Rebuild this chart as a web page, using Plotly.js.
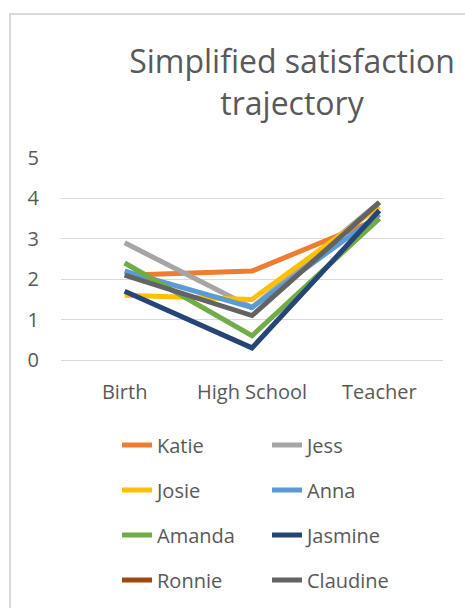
<!DOCTYPE html>
<html>
<head>
<meta charset="utf-8">
<script src="https://cdn.plot.ly/plotly-3.0.1.min.js"></script>
<style>
  html, body { margin: 0; padding: 0; width: 465px; height: 608px; overflow: hidden; background: #fff; }
  #chart { position: absolute; left: 9px; top: 13px; width: 600px; height: 700px;
           border-left: 2px solid #d9d9d9; border-top: 2px solid #d9d9d9; }
</style>
</head>
<body>
<div id="chart"></div>
<script>
// Life stages on the horizontal axis
const stages = ["Birth", "High School", "Teacher"];

// Satisfaction score per person at each stage
const katie    = [2.1, 2.2, 3.5];
const jess     = [2.9, 1.3, 3.9];
const josie    = [1.6, 1.5, 3.8];
const anna     = [2.2, 1.3, 3.6];
const amanda   = [2.4, 0.6, 3.5];
const jasmine  = [1.7, 0.3, 3.7];
const ronnie   = [null, null, null];
const claudine = [2.1, 1.1, 3.9];

const names  = ["Katie", "Jess", "Josie", "Anna", "Amanda", "Jasmine", "Ronnie", "Claudine"];
const series = [katie, jess, josie, anna, amanda, jasmine, ronnie, claudine];
const colors = ["#ED7D31", "#A5A5A5", "#FFC000", "#5B9BD5", "#70AD47", "#264478", "#9E480E", "#636363"];

const yTicks = [0, 1, 2, 3, 4, 5];

const FONT = "Open Sans, sans-serif";
const TEXT = "#595959";

// two entries per legend row
const legendIds = ["legend", "legend2", "legend3", "legend4"];

const traces = series.map((vals, i) => ({
  type: "scatter",
  mode: "lines",
  x: stages,
  y: vals,
  name: names[i],
  line: { color: colors[i], width: 5 },
  legend: legendIds[Math.floor(i / 2)],
  hoverinfo: "skip"
}));

const W = 600, H = 700;
const PL = 50, PW = 382;
const rowY = [430, 475, 520, 565];

const layout = {
  width: W,
  height: H,
  margin: { l: PL, r: W - PL - PW, t: 143, b: 355 },
  paper_bgcolor: "rgba(0,0,0,0)",
  plot_bgcolor: "rgba(0,0,0,0)",
  font: { family: FONT, color: TEXT, size: 20 },
  title: {
    text: "Simplified satisfaction<br>trajectory",
    font: { family: FONT, size: 32, color: TEXT },
    xref: "container", x: 281 / W, xanchor: "center",
    yref: "container", y: 1 - 58 / H, yanchor: "top"
  },
  xaxis: {
    type: "category",
    range: [-0.5, 2.5],
    showgrid: false,
    zeroline: false,
    showline: true,
    linecolor: "#d9d9d9",
    linewidth: 1.3,
    ticks: "",
    ticklabelstandoff: 14,
    tickfont: { family: FONT, size: 20, color: TEXT }
  },
  yaxis: {
    range: [0, 5],
    tickvals: yTicks,
    showgrid: true,
    gridcolor: "#d9d9d9",
    gridwidth: 1.3,
    zeroline: false,
    showline: false,
    ticks: "",
    ticklabelstandoff: 21,
    tickfont: { family: FONT, size: 20, color: TEXT }
  },
  showlegend: true
};

legendIds.forEach((id, r) => {
  layout[id] = {
    orientation: "h",
    xref: "paper", x: (106 - PL) / PW, xanchor: "left",
    yref: "container", y: 1 - rowY[r] / H, yanchor: "middle",
    entrywidth: 105, entrywidthmode: "pixels",
    bgcolor: "rgba(0,0,0,0)",
    font: { family: FONT, size: 20, color: TEXT },
    traceorder: "normal"
  };
});

Plotly.newPlot("chart", traces, layout, { staticPlot: true, displayModeBar: false });
</script>
</body>
</html>
